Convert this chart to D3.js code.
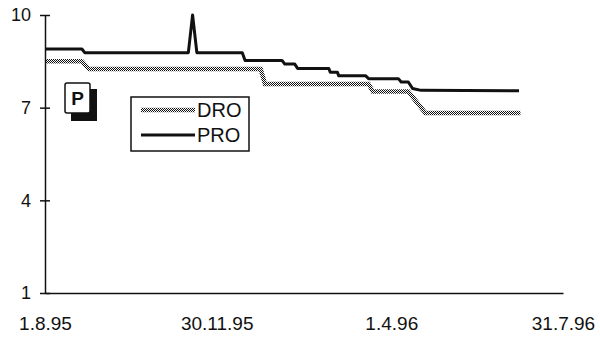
<!DOCTYPE html>
<html>
<head>
<meta charset="utf-8">
<script src="https://cdn.jsdelivr.net/npm/d3@7"></script>
<style>
  html, body { margin: 0; padding: 0; background: #fff; }
  svg { display: block; font-family: "Liberation Sans", Arial, sans-serif; }
</style>
</head>
<body>
<svg id="chart" width="600" height="340"></svg>
<script>
// Tick labels
const yTicks = [1, 4, 7, 10];
const xTickDates = ["1995-08-01", "1995-11-30", "1996-04-01", "1996-07-31"];
const xTickLabels = ["1.8.95", "30.11.95", "1.4.96", "31.7.96"];

// PRO series (daily values, step changes)
const proDates = ["1995-08-01", "1995-08-27", "1995-08-29", "1995-11-10", "1995-11-13", "1995-11-16",
  "1995-12-18", "1995-12-20", "1996-01-15", "1996-01-17", "1996-01-24", "1996-01-26",
  "1996-02-17", "1996-02-18", "1996-02-23", "1996-02-24", "1996-03-14", "1996-03-16",
  "1996-04-06", "1996-04-08", "1996-04-13", "1996-04-16", "1996-04-22", "1996-06-30"];
const proValues = [8.90, 8.90, 8.78, 8.78, 10.0, 8.78,
  8.78, 8.53, 8.53, 8.41, 8.41, 8.27,
  8.27, 8.15, 8.15, 8.03, 8.03, 7.94,
  7.94, 7.83, 7.83, 7.62, 7.56, 7.55];

// DRO series
const droDates = ["1995-08-01", "1995-08-27", "1995-09-01", "1995-12-31", "1996-01-03",
  "1996-03-16", "1996-03-19", "1996-04-13", "1996-04-25", "1996-07-01"];
const droValues = [8.50, 8.50, 8.25, 8.25, 7.77,
  7.77, 7.52, 7.52, 6.83, 6.83];

const seriesNames = ["DRO", "PRO"];

const parse = d3.utcParse("%Y-%m-%d");
const svg = d3.select("#chart");

// checkerboard pattern for the DRO line
const defs = svg.append("defs");
const pat = defs.append("pattern").attr("id", "checker")
  .attr("width", 2).attr("height", 2).attr("patternUnits", "userSpaceOnUse");
pat.append("rect").attr("x", 0).attr("y", 0).attr("width", 1).attr("height", 1).attr("fill", "#111");
pat.append("rect").attr("x", 1).attr("y", 1).attr("width", 1).attr("height", 1).attr("fill", "#111");

const x = d3.scaleUtc()
  .domain([parse(xTickDates[0]), parse(xTickDates[3])])
  .range([45, 563]);
const y = d3.scaleLinear().domain([1, 10]).range([293, 15]);

// X axis (labels only, no tick marks)
const xAxis = svg.append("g").attr("transform", "translate(0,293)")
  .call(d3.axisBottom(x)
    .tickValues(xTickDates.map(parse))
    .tickSize(0)
    .tickPadding(24)
    .tickFormat((d, i) => xTickLabels[i]));
xAxis.select(".domain").attr("stroke", "#111").attr("stroke-width", 1.5);
xAxis.selectAll("text").attr("font-size", 19).attr("fill", "#111")
  .attr("font-family", "'Liberation Sans', Arial, sans-serif");

// Y axis with cross ticks
const yAxis = svg.append("g").attr("transform", "translate(45,0)")
  .call(d3.axisLeft(y).tickValues(yTicks).tickSizeInner(5).tickSizeOuter(0).tickPadding(9));
yAxis.select(".domain").attr("stroke", "#111").attr("stroke-width", 1.5);
yAxis.selectAll(".tick line").attr("x1", 5).attr("stroke", "#111").attr("stroke-width", 1.5);
yAxis.selectAll("text").attr("font-size", 18).attr("fill", "#111")
  .attr("font-family", "'Liberation Sans', Arial, sans-serif");

const line = d3.line().x(d => x(d[0])).y(d => y(d[1]));

const droData = droDates.map((d, i) => [parse(d), droValues[i]]);
const proData = proDates.map((d, i) => [parse(d), proValues[i]]);

svg.append("path").datum(droData)
  .attr("d", line).attr("fill", "none")
  .attr("stroke", "url(#checker)").attr("stroke-width", 4.5);

svg.append("path").datum(proData)
  .attr("d", line).attr("fill", "none")
  .attr("stroke", "#111").attr("stroke-width", 3)
  .attr("stroke-linejoin", "round");

// "P" badge with drop shadow
const badge = svg.append("g");
badge.append("rect").attr("x", 71).attr("y", 89).attr("width", 26).attr("height", 32)
  .attr("fill", "#111");
badge.append("rect").attr("x", 65).attr("y", 83).attr("width", 25).attr("height", 30)
  .attr("rx", 2).attr("fill", "#fff").attr("stroke", "#111").attr("stroke-width", 1.5);
badge.append("text").attr("x", 77.5).attr("y", 105).attr("text-anchor", "middle")
  .attr("font-size", 19).attr("font-weight", "bold").attr("fill", "#111").text("P");

// Legend
const lg = svg.append("g");
lg.append("rect").attr("x", 131).attr("y", 97).attr("width", 118).attr("height", 54)
  .attr("fill", "#fff").attr("stroke", "#111").attr("stroke-width", 1.5);
const rowsY = [110, 135];
seriesNames.forEach((name, i) => {
  lg.append("line").attr("x1", 141).attr("x2", 195).attr("y1", rowsY[i]).attr("y2", rowsY[i])
    .attr("stroke", i === 0 ? "url(#checker)" : "#111")
    .attr("stroke-width", i === 0 ? 4.5 : 3);
  lg.append("text").attr("x", 197).attr("y", rowsY[i]).attr("dy", "0.36em")
    .attr("font-size", 20).attr("fill", "#111").text(name);
});
</script>
</body>
</html>
